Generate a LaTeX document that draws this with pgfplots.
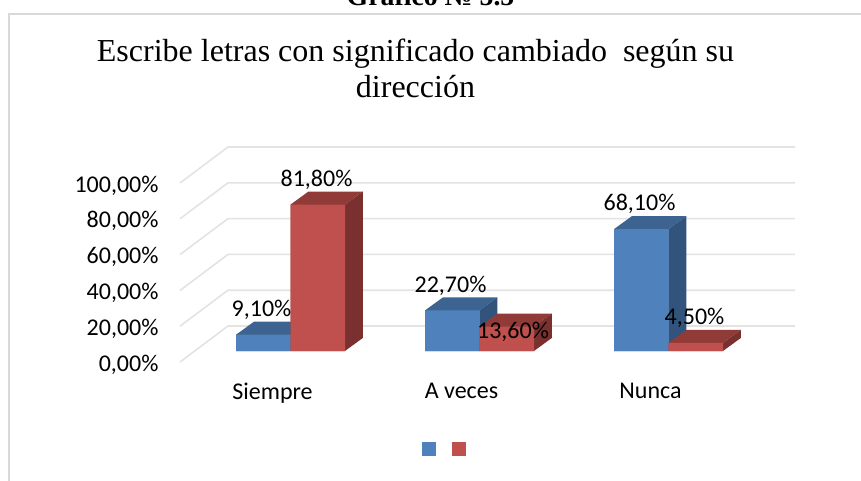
\documentclass[border=0pt]{standalone}
\usepackage{pgfplots}
\pgfplotsset{compat=1.18}
\usepackage{fontspec}
\setmainfont{Carlito}
\newfontfamily\serif{Liberation Serif}
\definecolor{grid}{HTML}{E3E3E3}
\definecolor{frame}{HTML}{D9D9D9}
\definecolor{bluef}{HTML}{4F81BD}
\definecolor{bluet}{HTML}{3D6390}
\definecolor{blues}{HTML}{32537C}
\definecolor{redf}{HTML}{C0504D}
\definecolor{redt}{HTML}{903B38}
\definecolor{reds}{HTML}{7A302E}
\begin{document}
\begin{tikzpicture}[x=1pt,y=1pt]
\useasboundingbox (0,0) rectangle (861,-481);
\draw[frame,line width=1.3pt] (9,-481) -- (9,-14) -- (861,-14);
\node[font=\serif\bfseries\fontsize{27.8}{30}\selectfont,anchor=base] at (430.5,-6) {Gráfico № 5.5};
\node[font=\serif\fontsize{32}{36}\selectfont,align=center,anchor=base] at (415.5,-98) {Escribe letras con significado cambiado\ \ según su\\dirección};
\fill[bluef] (422,-442) rectangle (436,-456);
\fill[redf] (452,-442) rectangle (466,-456);
\begin{axis}[
  at={(180pt,-362pt)},anchor=south west,
  scale only axis,width=567pt,height=179pt,
  xmin=-0.5,xmax=2.5,ymin=0,ymax=100,
  axis line style={draw=none},clip=false,
  xtick={0,1,2},xticklabels={Siempre,A veces,Nunca},
  ytick={0,20,40,60,80,100},
  yticklabels={0{,}00\%,20{,}00\%,40{,}00\%,60{,}00\%,80{,}00\%,100{,}00\%},
  major tick length=0pt,
  tick label style={font=\fontsize{24}{27}\selectfont},
  yticklabel style={xshift=-18pt,yshift=-2.5pt},
  xticklabel style={yshift=-17.5pt,xshift=-2pt},
  bar width=54.5pt,
  grid line/.style={draw=grid,line width=1.6pt,forget plot},
  face/.style 2 args={ybar,bar shift=#1,draw=none,xshift=16pt,yshift=11pt,forget plot,
    nodes near coords={\pgfmathprintnumber[fixed,fixed zerofill,precision=2,use comma,assume math mode=true]{\pgfplotspointmeta}\%},
    every node near coord/.append style={anchor=center,inner sep=0pt,text=black,xshift=#2,yshift=25pt,font=\fontsize{24}{27}\selectfont},
  },
  poly/.style={draw=none,fill=#1,xshift=16pt,yshift=11pt,forget plot},
]
% gridlines: left wall and back wall
\addplot[grid line] coordinates {(-0.5,0) (-0.246,20.1) (2.754,20.1)};
\addplot[grid line] coordinates {(-0.5,20) (-0.246,40.1) (2.754,40.1)};
\addplot[grid line] coordinates {(-0.5,40) (-0.246,60.1) (2.754,60.1)};
\addplot[grid line] coordinates {(-0.5,60) (-0.246,80.1) (2.754,80.1)};
\addplot[grid line] coordinates {(-0.5,80) (-0.246,100.1) (2.754,100.1)};
\addplot[grid line] coordinates {(-0.5,100) (-0.246,120.1) (2.754,120.1)};
% blue tops and sides
\addplot[poly=bluet] coordinates {(-0.288,9.1) (-0.193,16.4) (0.095,16.4) (0,9.1)} \closedcycle;
\addplot[poly=blues] coordinates {(0,0) (0.095,7.3) (0.095,16.4) (0,9.1)} \closedcycle;
\addplot[poly=bluet] coordinates {(0.712,22.7) (0.807,30) (1.095,30) (1,22.7)} \closedcycle;
\addplot[poly=blues] coordinates {(1,0) (1.095,7.3) (1.095,30) (1,22.7)} \closedcycle;
\addplot[poly=bluet] coordinates {(1.712,68.1) (1.807,75.4) (2.095,75.4) (2,68.1)} \closedcycle;
\addplot[poly=blues] coordinates {(2,0) (2.095,7.3) (2.095,75.4) (2,68.1)} \closedcycle;
% blue front faces
\addplot[face={-27.25pt}{-29pt},fill=bluef] coordinates {(0,9.1) (1,22.7) (2,68.1)};
% red tops and sides
\addplot[poly=redt] coordinates {(0,81.8) (0.095,89.1) (0.383,89.1) (0.288,81.8)} \closedcycle;
\addplot[poly=reds] coordinates {(0.288,0) (0.383,7.3) (0.383,89.1) (0.288,81.8)} \closedcycle;
\addplot[poly=redt] coordinates {(1,13.6) (1.095,20.9) (1.383,20.9) (1.288,13.6)} \closedcycle;
\addplot[poly=reds] coordinates {(1.288,0) (1.383,7.3) (1.383,20.9) (1.288,13.6)} \closedcycle;
\addplot[poly=redt] coordinates {(2,4.5) (2.095,11.8) (2.383,11.8) (2.288,4.5)} \closedcycle;
\addplot[poly=reds] coordinates {(2.288,0) (2.383,7.3) (2.383,11.8) (2.288,4.5)} \closedcycle;
% red front faces
\addplot[face={27.25pt}{26pt},fill=redf,coordinate style/.condition={abs(y-13.6)<0.01}{xshift=7.5pt,yshift=-30pt}] coordinates {(0,81.8) (1,13.6) (2,4.5)};
\end{axis}
\end{tikzpicture}
\end{document}
